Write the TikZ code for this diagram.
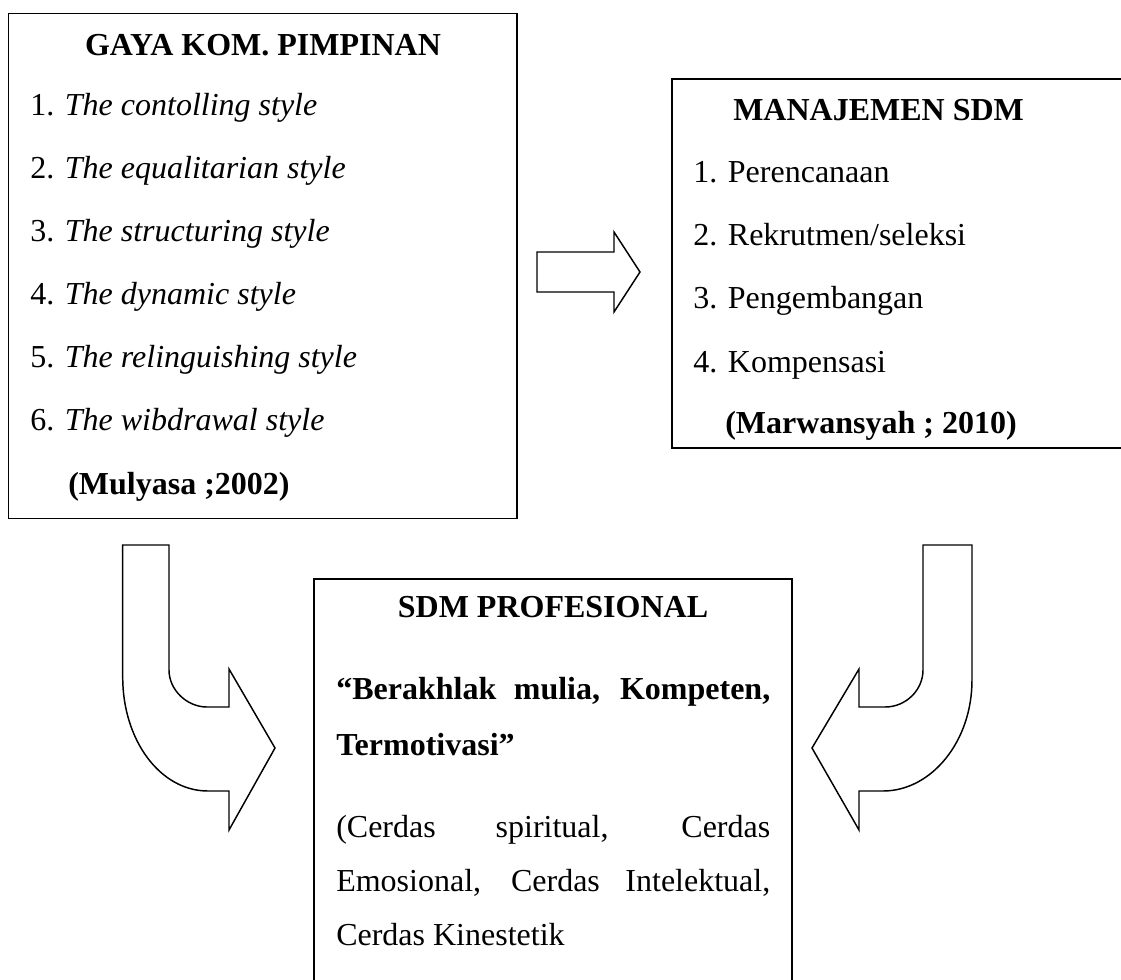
\documentclass[tikz,border=0pt]{standalone}
\usepackage{fontspec}
\setmainfont{Liberation Serif}
\usetikzlibrary{fit}
\begin{document}
\begin{tikzpicture}[x=0.75pt,y=-0.75pt,
  boxframe/.style={draw, line width=1.4pt, inner sep=0pt, outer sep=0pt},
  txt/.style={anchor=base west, inner sep=0pt, font=\fontsize{24}{28}\selectfont},
  ttl/.style={anchor=base, inner sep=0pt, font=\fontsize{24}{28}\selectfont\bfseries},
  btxt/.style={txt, font=\fontsize{24}{28}\selectfont\bfseries},
  blockarrow/.style={draw, line width=1.1pt, fill=white, line join=miter}]
\useasboundingbox (0,0) rectangle (1121,979);
\clip (0,0) rectangle (1121,979);
% boxes
\coordinate (gA) at (8.5,13.5);  \coordinate (gB) at (517,518.5);
\coordinate (mA) at (672,79);    \coordinate (mB) at (1135,448);
\coordinate (pA) at (314,579);   \coordinate (pB) at (792,995);
\node[boxframe, fit=(gA)(gB)] (gaya) {};
\node[boxframe, fit=(mA)(mB)] (mnj) {};
\node[boxframe, fit=(pA)(pB)] (prof) {};
% left box text
\node[ttl] (gt) at (263,55) {GAYA KOM. PIMPINAN};
\node[txt] (g1) at (30,115) {1. \textit{The contolling style}};
\node[txt] (g2) at (30,178) {2. \textit{The equalitarian style}};
\node[txt] (g3) at (30,241) {3. \textit{The structuring style}};
\node[txt] (g4) at (30,304) {4. \textit{The dynamic style}};
\node[txt] (g5) at (30,367) {5. \textit{The relinguishing style}};
\node[txt] (g6) at (30,430) {6. \textit{The wibdrawal style}};
\node[btxt] (gc) at (68,494) {(Mulyasa ;2002)};
% right box text
\node[btxt] (mt) at (733,120) {MANAJEMEN SDM};
\node[txt] (m1) at (693,182) {1. Perencanaan};
\node[txt] (m2) at (693,245) {2. Rekrutmen/seleksi};
\node[txt] (m3) at (693,308) {3. Pengembangan};
\node[txt] (m4) at (693,372) {4. Kompensasi};
\node[btxt] (mc) at (725,433) {(Marwansyah ; 2010)};
% bottom box text
\node[ttl] (pt) at (553,617) {SDM PROFESIONAL};
\node[btxt] (p1) at (336,699) {\makebox[325.5pt][s]{“Berakhlak mulia, Kompeten,}};
\node[btxt] (p2) at (336,755) {Termotivasi”};
\node[txt] (p3) at (336,837) {\makebox[325.5pt][s]{(Cerdas spiritual, Cerdas}};
\node[txt] (p4) at (336,891) {\makebox[325.5pt][s]{Emosional, Cerdas Intelektual,}};
\node[txt] (p5) at (336,945) {Cerdas Kinestetik};
% middle block arrow
\draw[blockarrow] (537,252) -- (614,252) -- (614,232) -- (640,272) -- (614,312)
  -- (614,292) -- (537,292) -- cycle;
% left bent arrow
\draw[blockarrow] (122.7,545) -- (169,545) -- (169,670)
  .. controls (169,690) and (187,707) .. (207,707) -- (229,707) -- (229,669)
  -- (275,748) -- (229,830) -- (229,791) -- (208,791)
  .. controls (160,791) and (122.7,740) .. (122.7,677) -- cycle;
% right bent arrow
\draw[blockarrow] (923,545) -- (972,545) -- (972,680)
  .. controls (972,742) and (931,791) .. (883,791) -- (859,791) -- (859,830)
  -- (812,748) -- (859,669) -- (859,707) -- (885,707)
  .. controls (906,707) and (923,690) .. (923,670) -- cycle;
\end{tikzpicture}
\end{document}
